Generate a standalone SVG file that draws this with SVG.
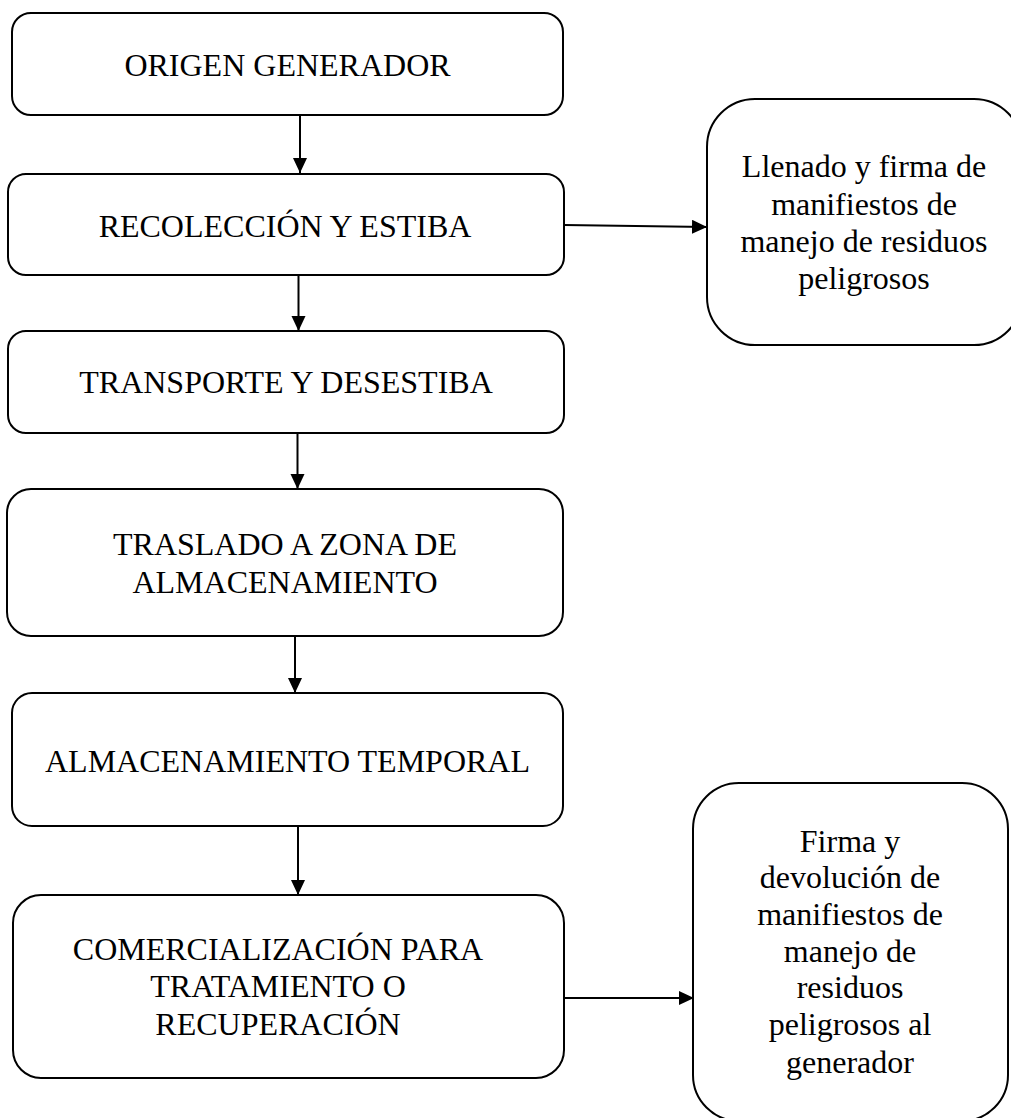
<svg xmlns="http://www.w3.org/2000/svg" width="1011" height="1118" viewBox="0 0 1011 1118">
<style>
.box{fill:#fff;stroke:#000;stroke-width:2}
.lbl{font-family:"Liberation Serif","Times New Roman",serif;font-size:32px;fill:#000;text-anchor:middle}
.conn{stroke:#000;stroke-width:2;fill:none}
</style>
<defs>
<marker id="ah" markerUnits="userSpaceOnUse" markerWidth="16" markerHeight="15" refX="15" refY="7" orient="auto">
<path d="M0,0 L15,7 L0,14 z" fill="#000"/>
</marker>
</defs>
<rect width="1011" height="1118" fill="#fff"/>
<g id="connectors">
<line class="conn" x1="300" y1="115" x2="300" y2="173" marker-end="url(#ah)"/>
<line class="conn" x1="564" y1="225" x2="707" y2="227" marker-end="url(#ah)"/>
<line class="conn" x1="298.5" y1="275" x2="298.5" y2="331" marker-end="url(#ah)"/>
<line class="conn" x1="297.5" y1="433" x2="297.5" y2="489" marker-end="url(#ah)"/>
<line class="conn" x1="295" y1="636" x2="295" y2="693" marker-end="url(#ah)"/>
<line class="conn" x1="298" y1="826" x2="298" y2="895" marker-end="url(#ah)"/>
<line class="conn" x1="564" y1="998" x2="694" y2="998" marker-end="url(#ah)"/>
</g>
<g id="n1">
<rect class="box" x="12" y="13" width="551" height="102" rx="19"/>
<text class="lbl" x="287.5" y="76">ORIGEN GENERADOR</text>
</g>
<g id="n2">
<rect class="box" x="8" y="174" width="556" height="101" rx="18"/>
<text class="lbl" x="285" y="237">RECOLECCIÓN Y ESTIBA</text>
</g>
<g id="n3">
<rect class="box" x="8" y="331" width="556" height="102" rx="18"/>
<text class="lbl" x="286" y="393">TRANSPORTE Y DESESTIBA</text>
</g>
<g id="n4">
<rect class="box" x="7" y="489" width="556" height="147" rx="24"/>
<text class="lbl" x="285" y="555">TRASLADO A ZONA DE</text>
<text class="lbl" x="285" y="593">ALMACENAMIENTO</text>
</g>
<g id="n5">
<rect class="box" x="12" y="693" width="551" height="133" rx="20"/>
<text class="lbl" x="287.5" y="772">ALMACENAMIENTO TEMPORAL</text>
</g>
<g id="n6">
<rect class="box" x="13" y="895" width="551" height="183" rx="28"/>
<text class="lbl" x="278" y="960">COMERCIALIZACIÓN PARA</text>
<text class="lbl" x="278" y="997">TRATAMIENTO O</text>
<text class="lbl" x="278" y="1035">RECUPERACIÓN</text>
</g>
<g id="r1">
<rect class="box" x="707" y="99" width="315" height="246" rx="48"/>
<text class="lbl" x="864" y="177">Llenado y firma de</text>
<text class="lbl" x="864" y="215">manifiestos de</text>
<text class="lbl" x="864" y="252">manejo de residuos</text>
<text class="lbl" x="864" y="289">peligrosos</text>
</g>
<g id="r2">
<rect class="box" x="693" y="783" width="315" height="338" rx="46"/>
<text class="lbl" x="850" y="852">Firma y</text>
<text class="lbl" x="850" y="888">devolución de</text>
<text class="lbl" x="850" y="925">manifiestos de</text>
<text class="lbl" x="850" y="962">manejo de</text>
<text class="lbl" x="850" y="998">residuos</text>
<text class="lbl" x="850" y="1035">peligrosos al</text>
<text class="lbl" x="850" y="1073">generador</text>
</g>
</svg>
